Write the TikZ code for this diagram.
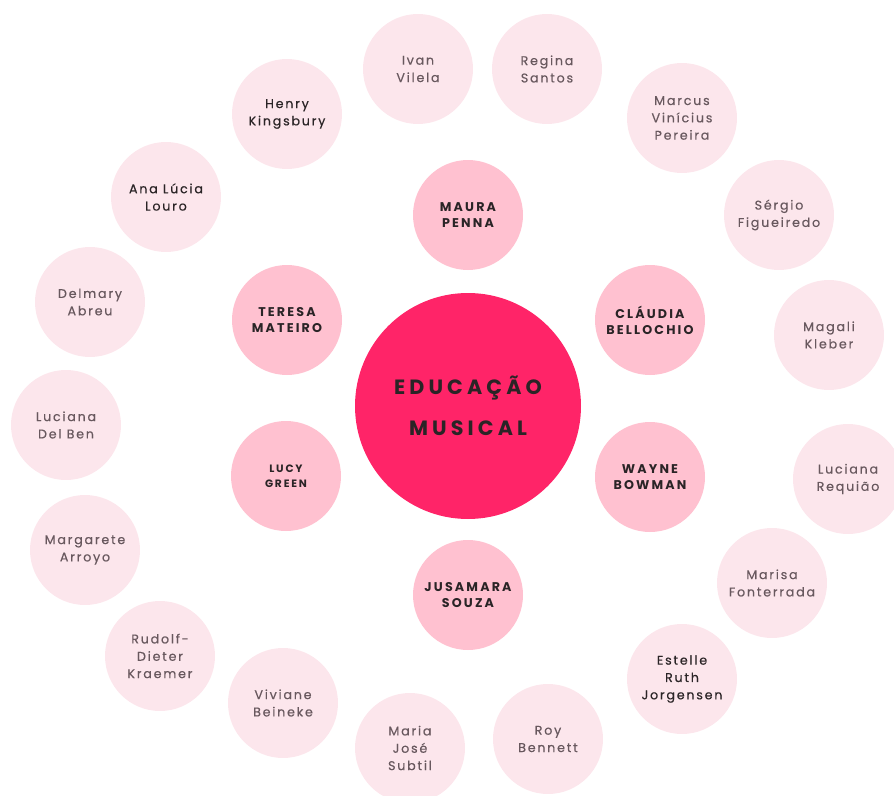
\documentclass[tikz,border=0pt]{standalone}
\usepackage{fontspec}
\setmainfont{Poppins}
\newfontfamily\corefont[LetterSpace=20]{Poppins}
\newfontfamily\namefont[LetterSpace=17]{Poppins}
\newfontfamily\citedfont[LetterSpace=14,FakeBold=0.35]{Poppins}

\definecolor{hotpink}{RGB}{255,36,104}
\definecolor{midpink}{RGB}{255,193,208}
\definecolor{palepink}{RGB}{252,230,236}
\definecolor{greytext}{RGB}{104,88,94}
\definecolor{darktext}{RGB}{42,36,38}

\begin{document}
\begin{tikzpicture}[x=0.75pt,y=0.75pt,yscale=-1,xscale=1,
  core/.style={circle,fill=hotpink,minimum size=169.5pt,inner sep=0pt,align=center,text=darktext,font=\corefont\bfseries\fontsize{15.5}{31}\selectfont},
  author/.style={circle,fill=midpink,minimum size=82.5pt,inner sep=0pt,align=center,text=darktext,font=\namefont\bfseries\fontsize{9.5}{12}\selectfont},
  cited/.style={circle,fill=palepink,minimum size=82.5pt,inner sep=0pt,align=center,text=greytext,font=\citedfont\fontsize{9.5}{13}\selectfont},
  citeddark/.style={cited,text=darktext}]

\useasboundingbox (0,0) rectangle (894,796);

% centre
\node [core] (core) at (468,406) {EDUCAÇÃO\\MUSICAL};

% inner ring
\node [author] (maura) at (468,215) {MAURA\\PENNA};
\node [author] (teresa) at (287,320) {TERESA\\MATEIRO};
\node [author] (claudia) at (650,320) {CLÁUDIA\\BELLOCHIO};
\node [author,font=\namefont\bfseries\fontsize{8}{11}\selectfont] (lucy) at (286,476) {LUCY\\GREEN};
\node [author] (wayne) at (650,477) {WAYNE\\BOWMAN};
\node [author] (jusamara) at (468,595) {JUSAMARA\\SOUZA};

% outer ring
\node [cited] (ivan) at (418,69) {Ivan\\Vilela};
\node [cited] (regina) at (547,69) {Regina\\Santos};
\node [citeddark] (henry) at (287,114) {Henry\\Kingsbury};
\node [cited] (marcus) at (682,118) {Marcus\\Vinícius\\Pereira};
\node [citeddark] (analucia) at (166,197) {Ana Lúcia\\Louro};
\node [cited] (sergio) at (779,215) {Sérgio\\Figueiredo};
\node [cited] (delmary) at (90,302) {Delmary\\Abreu};
\node [cited] (magali) at (829,335) {Magali\\Kleber};
\node [cited] (delben) at (66,425) {Luciana\\Del Ben};
\node [cited] (requiao) at (848,479) {Luciana\\Requião};
\node [cited] (margarete) at (85,550) {Margarete\\Arroyo};
\node [cited] (marisa) at (772,583) {Marisa\\Fonterrada};
\node [cited] (rudolf) at (160,656) {Rudolf-\\Dieter\\Kraemer};
\node [citeddark] (estelle) at (682,679) {Estelle\\Ruth\\Jorgensen};
\node [cited] (viviane) at (283,703) {Viviane\\Beineke};
\node [cited] (mariajose) at (410,748) {Maria\\José\\Subtil};
\node [cited] (roy) at (548,739) {Roy\\Bennett};

\end{tikzpicture}
\end{document}
